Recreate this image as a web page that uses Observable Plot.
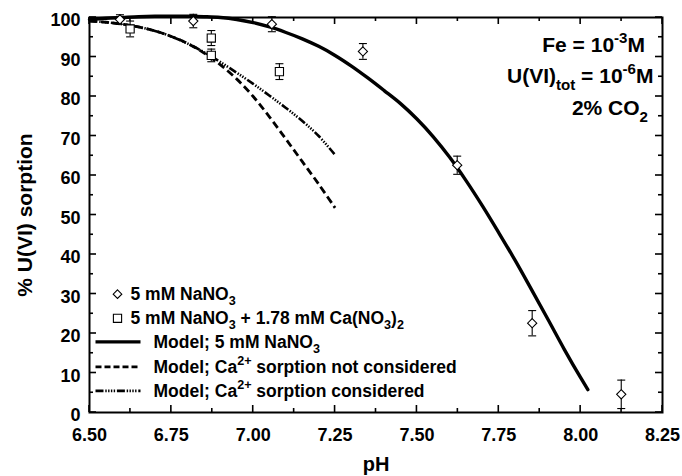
<!DOCTYPE html>
<html><head><meta charset="utf-8">
<script src="https://cdn.jsdelivr.net/npm/d3@7"></script>
<script src="https://cdn.jsdelivr.net/npm/@observablehq/plot@0.6"></script>
<style>body{margin:0;background:#fff} #chart svg{display:block}</style>
</head><body><div id="chart"></div>
<script>
// ---- data ----
const xMajor = [6.50, 6.75, 7.00, 7.25, 7.50, 7.75, 8.00, 8.25];
const xMinor = [6.625, 6.875, 7.125, 7.375, 7.625, 7.875, 8.125];
const yMajor = [0, 10, 20, 30, 40, 50, 60, 70, 80, 90, 100];
const yMinor = [5, 15, 25, 35, 45, 55, 65, 75, 85, 95];
const xDomain = [6.5, 8.25];
const yDomain = [0, 100];

// 5 mM NaNO3 (diamonds)
const naPH   = [6.593, 6.817, 7.057, 7.335, 7.623, 7.852, 8.124];
const naSorp = [99.5, 99.1, 98.3, 91.4, 62.6, 22.6, 4.6];
const naErr  = [1.2, 1.7, 1.9, 2.0, 2.3, 3.2, 3.6];

// 5 mM NaNO3 + 1.78 mM Ca(NO3)2 (squares)
const caPH   = [6.624, 6.872, 6.872, 7.080];
const caSorp = [97.1, 94.8, 90.4, 86.3];
const caErr  = [2.0, 1.9, 1.6, 2.0];

// Model; 5 mM NaNO3
const modelNaPH   = [6.50, 6.55, 6.60, 6.65, 6.70, 6.75, 6.80, 6.85, 6.90, 6.95, 7.00, 7.05, 7.10, 7.15, 7.20, 7.25, 7.30, 7.35, 7.40, 7.45, 7.50, 7.55, 7.60, 7.65, 7.70, 7.75, 7.80, 7.85, 7.90, 7.95, 8.00, 8.022];
const modelNaSorp = [99.5, 99.8, 100.0, 100.2, 100.3, 100.3, 100.3, 100.2, 100.0, 99.5, 98.7, 97.6, 96.2, 94.6, 92.7, 90.4, 87.7, 84.7, 81.5, 78.2, 74.3, 69.8, 64.6, 58.7, 52.3, 45.5, 38.5, 31.1, 23.6, 16.0, 8.8, 5.8];

// Model; Ca2+ sorption not considered
const modelNoCaPH   = [6.50, 6.55, 6.60, 6.65, 6.70, 6.75, 6.80, 6.85, 6.90, 6.95, 7.00, 7.05, 7.10, 7.15, 7.20, 7.25];
const modelNoCaSorp = [99.1, 98.8, 98.3, 97.6, 96.6, 95.2, 93.4, 91.0, 88.0, 84.4, 80.0, 74.8, 69.2, 63.5, 57.8, 51.8];

// Model; Ca2+ sorption considered
const modelCaPH   = [6.50, 6.55, 6.60, 6.65, 6.70, 6.75, 6.80, 6.85, 6.90, 6.95, 7.00, 7.05, 7.10, 7.15, 7.20, 7.25];
const modelCaSorp = [99.1, 98.8, 98.3, 97.6, 96.6, 95.2, 93.4, 91.2, 88.7, 86.0, 83.2, 80.2, 77.1, 73.8, 70.0, 65.2];

const legendLabels = [
  "5 mM NaNO_{3}",
  "5 mM NaNO_{3} + 1.78 mM Ca(NO_{3})_{2}",
  "Model; 5 mM NaNO_{3}",
  "Model; Ca^{2+} sorption not considered",
  "Model; Ca^{2+} sorption considered"
];
const annotations = ["Fe = 10^{-3}M", "U(VI)_{tot} = 10^{-6}M", "2% CO_{2}"];
const xLabel = "pH";
const yLabel = "% U(VI) sorption";

// ---- build ----
const zipXY = (xs, ys) => xs.map((x, i) => ({x, y: ys[i]}));
const naData = naPH.map((x, i) => ({x, y: naSorp[i], e: naErr[i]}));
const caData = caPH.map((x, i) => ({x, y: caSorp[i], e: caErr[i]}));

const rad = (size) => Math.sqrt(size / Math.PI);
const diamond = {draw(ctx, size) { const r = rad(size); ctx.moveTo(0, -r); ctx.lineTo(r, 0); ctx.lineTo(0, r); ctx.lineTo(-r, 0); ctx.closePath(); }};
const square = {draw(ctx, size) { const r = rad(size); ctx.moveTo(-r, -r); ctx.lineTo(r, -r); ctx.lineTo(r, r); ctx.lineTo(-r, r); ctx.closePath(); }};
const hline = {draw(ctx, size) { const r = rad(size); ctx.moveTo(-r, 0); ctx.lineTo(r, 0); }};

const DASH = "7.5,4";
const DASHDOT = "8,1.8,1.4,1.4,1.4,1.4,1.4,1.4,1.4,1.8";
const BOLD = "bold";

function txt(s, frameAnchor, dx, dy, fontSize, textAnchor = "start", extra = {}) {
  return Plot.text([s], {text: d => d, frameAnchor, dx, dy, fontSize, fontWeight: BOLD, textAnchor, lineAnchor: "middle", fill: "black", ...extra});
}

const legendDy = [-118.3, -94.2, -70.6, -45.6, -21.6];

const plot = Plot.plot({
  width: 682,
  height: 476,
  marginLeft: 89,
  marginRight: 20,
  marginTop: 17,
  marginBottom: 64,
  style: {fontFamily: "'Liberation Sans', Arial, sans-serif", color: "black", background: "white"},
  x: {domain: xDomain, label: null},
  y: {domain: yDomain, label: null},
  marks: [
    Plot.frame({strokeWidth: 2, stroke: "black"}),
    Plot.axisX({anchor: "bottom", ticks: xMajor, tickSize: 0, tickPadding: 16, tickFormat: d3.format(".2f"), fontSize: 18, fontWeight: BOLD, label: null}),
    Plot.axisY({anchor: "left", ticks: yMajor, tickSize: 0, tickPadding: 9, dy: 3, tickFormat: d3.format("d"), fontSize: 18, fontWeight: BOLD, label: null}),
    // model curves
    Plot.line(zipXY(modelNoCaPH, modelNoCaSorp), {x: "x", y: "y", curve: "catmull-rom", strokeWidth: 2.8, strokeDasharray: DASH, strokeLinecap: "butt"}),
    Plot.line(zipXY(modelCaPH, modelCaSorp), {x: "x", y: "y", curve: "catmull-rom", strokeWidth: 2.6, strokeDasharray: DASHDOT, strokeLinecap: "butt"}),
    Plot.line(zipXY(modelNaPH, modelNaSorp), {x: "x", y: "y", curve: "catmull-rom", strokeWidth: 3.4}),
    // error bars
    Plot.ruleX(naData, {x: "x", y1: d => d.y - d.e, y2: d => d.y + d.e, strokeWidth: 1.1}),
    Plot.dot(naData, {x: "x", y: d => d.y - d.e, symbol: hline, r: 4, stroke: "black", strokeWidth: 1.1}),
    Plot.dot(naData, {x: "x", y: d => d.y + d.e, symbol: hline, r: 4, stroke: "black", strokeWidth: 1.1}),
    Plot.ruleX(caData, {x: "x", y1: d => d.y - d.e, y2: d => d.y + d.e, strokeWidth: 1.1}),
    Plot.dot(caData, {x: "x", y: d => d.y - d.e, symbol: hline, r: 4, stroke: "black", strokeWidth: 1.1}),
    Plot.dot(caData, {x: "x", y: d => d.y + d.e, symbol: hline, r: 4, stroke: "black", strokeWidth: 1.1}),
    // symbols
    Plot.dot(naData, {x: "x", y: "y", symbol: diamond, r: 4.6, fill: "white", stroke: "black", strokeWidth: 1.1}),
    Plot.dot(caData, {x: "x", y: "y", symbol: square, r: 4.1, fill: "white", stroke: "black", strokeWidth: 1.1}),
    // legend
    Plot.dot([0], {frameAnchor: "bottom-left", dx: 28, dy: legendDy[0], symbol: diamond, r: 4.3, fill: "white", stroke: "black", strokeWidth: 1.1}),
    Plot.dot([0], {frameAnchor: "bottom-left", dx: 28, dy: legendDy[1], symbol: square, r: 4.1, fill: "white", stroke: "black", strokeWidth: 1.1}),
    Plot.dot([0], {frameAnchor: "bottom-left", dx: 28.5, dy: legendDy[2], symbol: hline, r: 22.5, fill: "none", stroke: "black", strokeWidth: 3.2, strokeLinecap: "butt"}),
    Plot.dot([0], {frameAnchor: "bottom-left", dx: 28.5, dy: legendDy[3], symbol: hline, r: 22.5, fill: "none", stroke: "black", strokeWidth: 2.6, strokeDasharray: "6,3", strokeLinecap: "butt"}),
    Plot.dot([0], {frameAnchor: "bottom-left", dx: 28.5, dy: legendDy[4], symbol: hline, r: 22.5, fill: "none", stroke: "black", strokeWidth: 2.6, strokeDasharray: DASHDOT, strokeLinecap: "butt"}),
    txt(legendLabels[0], "bottom-left", 41, legendDy[0], 17.5),
    txt(legendLabels[1], "bottom-left", 41, legendDy[1], 17.5),
    txt(legendLabels[2], "bottom-left", 64, legendDy[2], 17.5),
    txt(legendLabels[3], "bottom-left", 64, legendDy[3], 17.5),
    txt(legendLabels[4], "bottom-left", 64, legendDy[4], 17.5),
    // annotations
    txt(annotations[0], "top-right", -17.5, 27.5, 21, "end"),
    txt(annotations[1], "top-right", -9, 59, 21, "end"),
    txt(annotations[2], "top-right", -14.5, 91, 21, "end"),
    // axis titles
    txt(xLabel, "bottom", 0, 52, 20, "middle"),
    txt(yLabel, "left", -64, 0, 21, "middle", {rotate: -90})
  ]
});

document.getElementById("chart").appendChild(plot);

// inward tick marks on all four frame sides, positioned with Plot's own scales
(function drawTicks() {
  const sx = plot.scale("x"), sy = plot.scale("y");
  const X = v => sx.apply(v), Y = v => sy.apply(v);
  const x0 = X(xDomain[0]), x1 = X(xDomain[1]);
  const y0 = Y(yDomain[0]), y1 = Y(yDomain[1]);
  const g = d3.select(plot).append("g").attr("stroke", "black").attr("stroke-width", 1.6).attr("fill", "none");
  const add = (ax, ay, bx, by) => g.append("line").attr("x1", ax).attr("y1", ay).attr("x2", bx).attr("y2", by);
  [[xMajor, 7], [xMinor, 4]].forEach(([ticks, len]) => ticks.forEach(v => {
    const x = X(v);
    add(x, y0, x, y0 - len);   // bottom, pointing up
    add(x, y1, x, y1 + len);   // top, pointing down
  }));
  [[yMajor, 7], [yMinor, 4]].forEach(([ticks, len]) => ticks.forEach(v => {
    const y = Y(v);
    add(x0, y, x0 + len, y);   // left, pointing right
    add(x1, y, x1 - len, y);   // right, pointing left
  }));
})();

// sub/superscript rendering for "_{..}" and "^{..}"
d3.select(plot).selectAll("text").each(function () {
  const s = this.textContent;
  if (!/[_^]\{/.test(s)) return;
  const fs = parseFloat(getComputedStyle(this).fontSize) || 17;
  const parts = [];
  const re = /([_^])\{([^}]*)\}/g;
  let last = 0, m;
  while ((m = re.exec(s))) {
    if (m.index > last) parts.push({type: "n", t: s.slice(last, m.index)});
    parts.push({type: m[1] === "_" ? "sub" : "sup", t: m[2]});
    last = re.lastIndex;
  }
  if (last < s.length) parts.push({type: "n", t: s.slice(last)});
  const el = d3.select(this);
  el.text(null);
  let shift = 0;
  parts.forEach(p => {
    const target = p.type === "sub" ? 0.3 * fs : p.type === "sup" ? -0.42 * fs : 0;
    const ts = el.append("tspan").text(p.t);
    const d = target - shift;
    if (Math.abs(d) > 1e-6) ts.attr("dy", d.toFixed(2));
    if (p.type !== "n") ts.attr("font-size", (0.72 * fs).toFixed(1));
    shift = target;
  });
});
</script>
</body></html>
